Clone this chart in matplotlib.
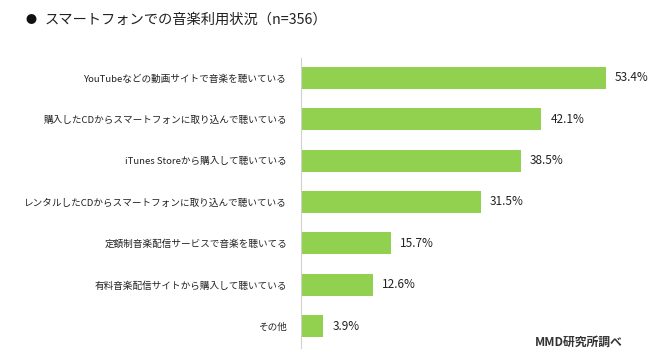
import matplotlib.pyplot as plt

plt.rcParams['font.family'] = ['Noto Sans CJK JP', 'DejaVu Sans']

labels = [
    'YouTubeなどの動画サイトで音楽を聴いている',
    '購入したCDからスマートフォンに取り込んで聴いている',
    'iTunes Storeから購入して聴いている',
    'レンタルしたCDからスマートフォンに取り込んで聴いている',
    '定額制音楽配信サービスで音楽を聴いてる',
    '有料音楽配信サイトから購入して聴いている',
    'その他',
]
values = [53.4, 42.1, 38.5, 31.5, 15.7, 12.6, 3.9]

W, H = 660, 351
fig = plt.figure(figsize=(W / 100, H / 100), dpi=100)
# axes: left edge at x=301, top y=58, bottom y=348
ax = fig.add_axes([301 / W, 1 - 348 / H, (W - 301) / W, (348 - 58) / H])

pos = list(range(len(values)))
ax.barh(pos, values, height=0.53, color='#92D050')
ax.set_ylim(6.53, -0.48)
ax.set_xlim(0, (W - 301) / 5.71)

for p, v in zip(pos, values):
    ax.text(v + 1.6, p, f'{v}%', va='center', ha='left', fontsize=8.5, color='#222222')

ax.set_yticks(pos)
ax.set_yticklabels(labels, fontsize=6.9, color='#222222')
ax.tick_params(axis='y', length=0, pad=10)
ax.set_xticks([])
for s in ['top', 'right', 'bottom']:
    ax.spines[s].set_visible(False)
ax.spines['left'].set_color('#d0d0d0')
ax.spines['left'].set_linewidth(0.8)

fig.text(25 / W, 1 - 20 / H, '●', fontsize=8, va='center', ha='left', color='#111111')
fig.text(45 / W, 1 - 20 / H, 'スマートフォンでの音楽利用状況（n=356）', fontsize=10.3,
         va='center', ha='left', color='#222222')
fig.text(623 / W, 1 - 342 / H, 'MMD研究所調べ', fontsize=8.5, fontweight='bold',
         va='center', ha='right', color='#333333')

fig.savefig('out.png', dpi=100, facecolor='white')
